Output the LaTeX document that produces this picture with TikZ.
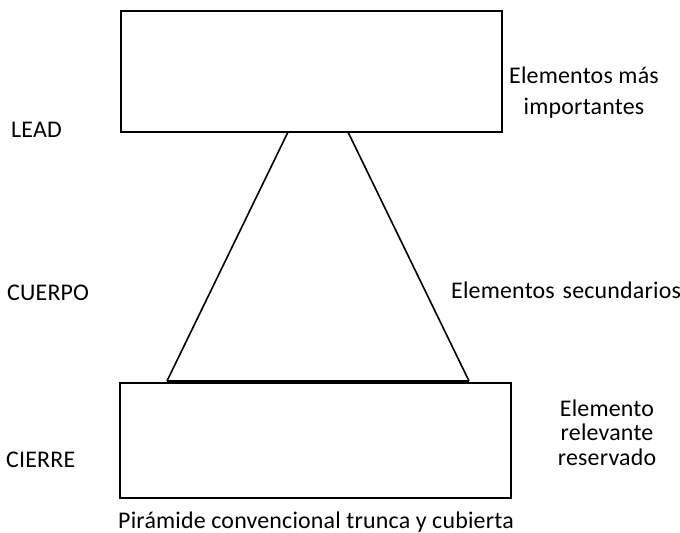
\documentclass[tikz,border=0pt]{standalone}
\usepackage{fontspec}
\setmainfont[LetterSpace=0.8]{Carlito}
\tikzset{
  caja/.style={draw, line width=2bp, inner sep=0pt},
  txt/.style={inner sep=0pt, font=\fontsize{24}{24.5}\selectfont},
}
\begin{document}
\begin{tikzpicture}[x=1bp, y=-1bp]
\useasboundingbox (0,0) rectangle (680,533);
% cajas
\node (lead)   [caja, minimum width=381bp, minimum height=121bp] at (311.5,72) {};
\node (cierre) [caja, minimum width=391bp, minimum height=115bp] at (315.5,440.5) {};
% cuerpo (piramide)
\coordinate (p1) at (288,132);
\coordinate (p2) at (348,132);
\coordinate (p3) at (167,381);
\coordinate (p4) at (469,381);
\draw [line width=1.6bp] (p1) -- (p3);
\draw [line width=1.6bp] (p2) -- (p4);
\draw [line width=2.2bp] (p3) -- (p4);
% etiquetas
\node (tlead)   [txt, anchor=base west] at (11,138) {LEAD};
\node (tcuerpo) [txt, anchor=base west] at (7,300) {CUERPO};
\node (tcierre) [txt, anchor=base west] at (6,467) {CIERRE};
\node (imp) [txt, align=center] at (584,92.5) {Elementos más\\[6.5bp]importantes};
\node (sec) [txt, anchor=base west] at (451,298) {Elementos\hspace{0.33em}secundarios};
\node (rel) [txt, align=center] at (607,432.5) {Elemento\\relevante\\reservado};
\node (pie) [txt, anchor=base] at (316,528) {Pirámide convencional trunca y cubierta};
\end{tikzpicture}
\end{document}
